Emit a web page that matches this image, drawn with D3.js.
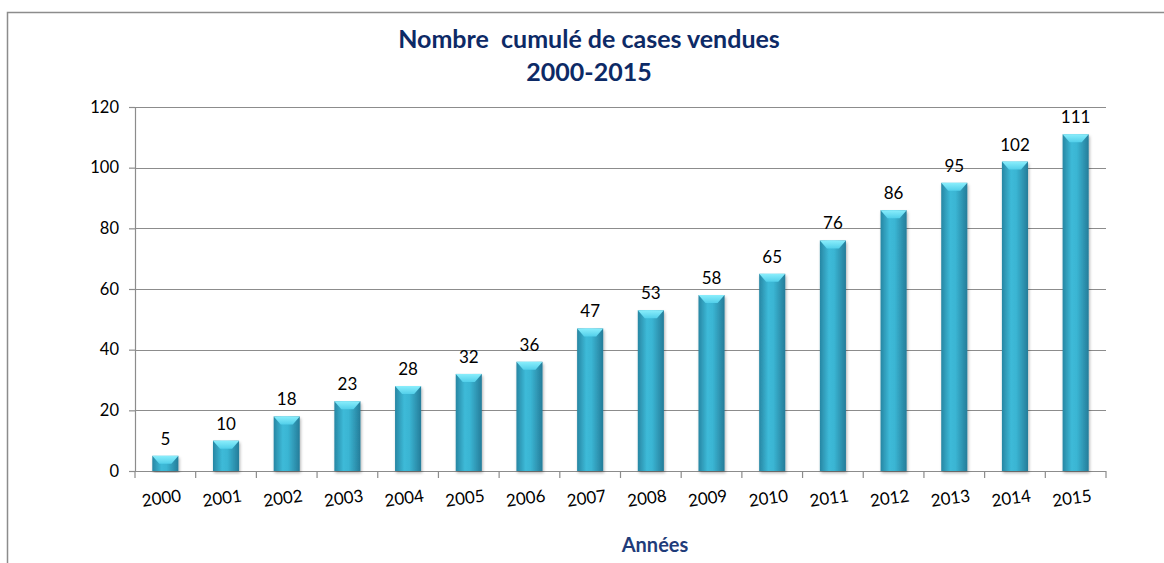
<!DOCTYPE html>
<html>
<head>
<meta charset="utf-8">
<script src="https://cdn.jsdelivr.net/npm/d3@7"></script>
<style>
  body { margin: 0; background: #fff; }
  text { font-family: Lato, "Open Sans", sans-serif; }
</style>
</head>
<body>
<div id="chart"></div>
<script>
/* DATA */
const years = ["2000","2001","2002","2003","2004","2005","2006","2007",
               "2008","2009","2010","2011","2012","2013","2014","2015"];
const cases = [5, 10, 18, 23, 28, 32, 36, 47, 53, 58, 65, 76, 86, 95, 102, 111];
const yTicks = [0, 20, 40, 60, 80, 100, 120];
const titleLines = ["Nombre  cumulé de cases vendues", "2000-2015"];
const xTitle = "Années";

const width = 1164, height = 563,
  margin = { top: 107, bottom: 92, left: 135, right: 58 };

const data = years.map((y, i) => ({ year: y, value: cases[i] }));

const svg = d3.select("#chart").append("svg")
  .attr("width", width)
  .attr("height", height);

// outer frame
svg.append("rect")
  .attr("x", 7.5).attr("y", 12.5)
  .attr("width", width + 20).attr("height", height + 20)
  .attr("fill", "none")
  .attr("stroke", "#8c8c8c")
  .attr("stroke-width", 1.5);

// gradients
const defs = svg.append("defs");
const grad = defs.append("linearGradient").attr("id", "barGrad")
  .attr("x1", "0%").attr("x2", "100%").attr("y1", "0%").attr("y2", "0%");
[["0%", "#2786a3"], ["35%", "#3dbad8"], ["55%", "#3ab5d3"], ["100%", "#257c99"]]
  .forEach(([o, c]) => grad.append("stop").attr("offset", o).attr("stop-color", c));
const capGrad = defs.append("linearGradient").attr("id", "capGrad")
  .attr("x1", "0%").attr("x2", "0%").attr("y1", "0%").attr("y2", "100%");
[["0%", "#8aeefc"], ["100%", "#52cfea"]]
  .forEach(([o, c]) => capGrad.append("stop").attr("offset", o).attr("stop-color", c));
const shadow = defs.append("filter").attr("id", "shadow")
  .attr("x", "-20%").attr("y", "-5%").attr("width", "140%").attr("height", "115%");
shadow.append("feDropShadow").attr("dx", 1).attr("dy", 2)
  .attr("stdDeviation", 1.5).attr("flood-color", "#000").attr("flood-opacity", 0.3);

// scales
const xScale = d3.scaleBand()
  .domain(years)
  .range([margin.left, width - margin.right])
  .paddingInner(0.57)
  .paddingOuter(0.285);

const xBand = d3.scaleBand()
  .domain(years)
  .range([margin.left, width - margin.right]);

const yScale = d3.scaleLinear()
  .domain([0, 120])
  .range([height - margin.bottom, margin.top]);

// gridlines
svg.append("g")
  .selectAll("line")
  .data(yTicks.filter(d => d > 0))
  .join("line")
  .attr("x1", margin.left).attr("x2", width - margin.right)
  .attr("y1", d => Math.round(yScale(d)) + 0.5)
  .attr("y2", d => Math.round(yScale(d)) + 0.5)
  .attr("stroke", "#8c8c8c")
  .attr("stroke-width", 1.2);

// y axis
const yAxisGroup = svg.append("g")
  .attr("transform", `translate(${margin.left},0)`)
  .call(d3.axisLeft(yScale).tickValues(yTicks).tickSize(6).tickPadding(10));
yAxisGroup.select(".domain").attr("stroke", "#8c8c8c").attr("stroke-width", 1.2);
yAxisGroup.selectAll(".tick line").attr("stroke", "#8c8c8c").attr("stroke-width", 1.2);
yAxisGroup.selectAll(".tick text")
  .attr("font-size", 16.5).attr("fill", "#000")
  .style("font-family", "Lato, sans-serif");

// x axis (ticks between categories)
const xAxisGroup = svg.append("g")
  .attr("transform", `translate(0,${height - margin.bottom})`);
xAxisGroup.append("line")
  .attr("x1", margin.left).attr("x2", width - margin.right)
  .attr("y1", 0.5).attr("y2", 0.5)
  .attr("stroke", "#8c8c8c").attr("stroke-width", 1.2);
xAxisGroup.selectAll("line.tk")
  .data([...years, "end"])
  .join("line")
  .attr("class", "tk")
  .attr("x1", d => d === "end" ? width - margin.right : xBand(d))
  .attr("x2", d => d === "end" ? width - margin.right : xBand(d))
  .attr("y1", 0).attr("y2", 7)
  .attr("stroke", "#8c8c8c").attr("stroke-width", 1.2);
xAxisGroup.selectAll("text.lbl")
  .data(years)
  .join("text")
  .attr("class", "lbl")
  .attr("text-anchor", "middle")
  .attr("font-size", 17)
  .attr("transform", d => `translate(${xBand(d) + xBand.bandwidth() / 2 - 3},${33}) rotate(-8)`)
  .text(d => d);

// bars
const bars = svg.append("g").selectAll("g.bar")
  .data(data)
  .join("g")
  .attr("class", "bar");

bars.append("rect")
  .attr("x", d => xScale(d.year))
  .attr("y", d => yScale(d.value))
  .attr("width", xScale.bandwidth())
  .attr("height", d => yScale(0) - yScale(d.value))
  .attr("fill", "url(#barGrad)")
  .attr("filter", "url(#shadow)");

bars.append("path")
  .attr("d", d => {
    const x0 = xScale(d.year), w = xScale.bandwidth(), y0 = yScale(d.value);
    return `M${x0},${y0}L${x0 + w},${y0}L${x0 + w - 7},${y0 + 8}L${x0 + 7},${y0 + 8}Z`;
  })
  .attr("fill", "url(#capGrad)");

// value labels
bars.append("text")
  .attr("x", d => xScale(d.year) + xScale.bandwidth() / 2)
  .attr("y", d => yScale(d.value) - 11)
  .attr("text-anchor", "middle")
  .attr("font-size", 17)
  .attr("fill", "#000")
  .text(d => d.value);

// title
svg.append("text")
  .attr("x", 589)
  .attr("text-anchor", "middle")
  .attr("font-size", 25)
  .attr("font-weight", "bold")
  .attr("fill", "#0d2a66")
  .selectAll("tspan")
  .data(titleLines)
  .join("tspan")
  .attr("x", 589)
  .attr("y", (d, i) => 48 + i * 33)
  .style("white-space", "pre")
  .text(d => d);

// x axis title
svg.append("text")
  .attr("x", 655)
  .attr("y", 552)
  .attr("text-anchor", "middle")
  .attr("font-size", 20)
  .attr("font-weight", "bold")
  .attr("fill", "#1f3c7a")
  .text(xTitle);
</script>
</body>
</html>
